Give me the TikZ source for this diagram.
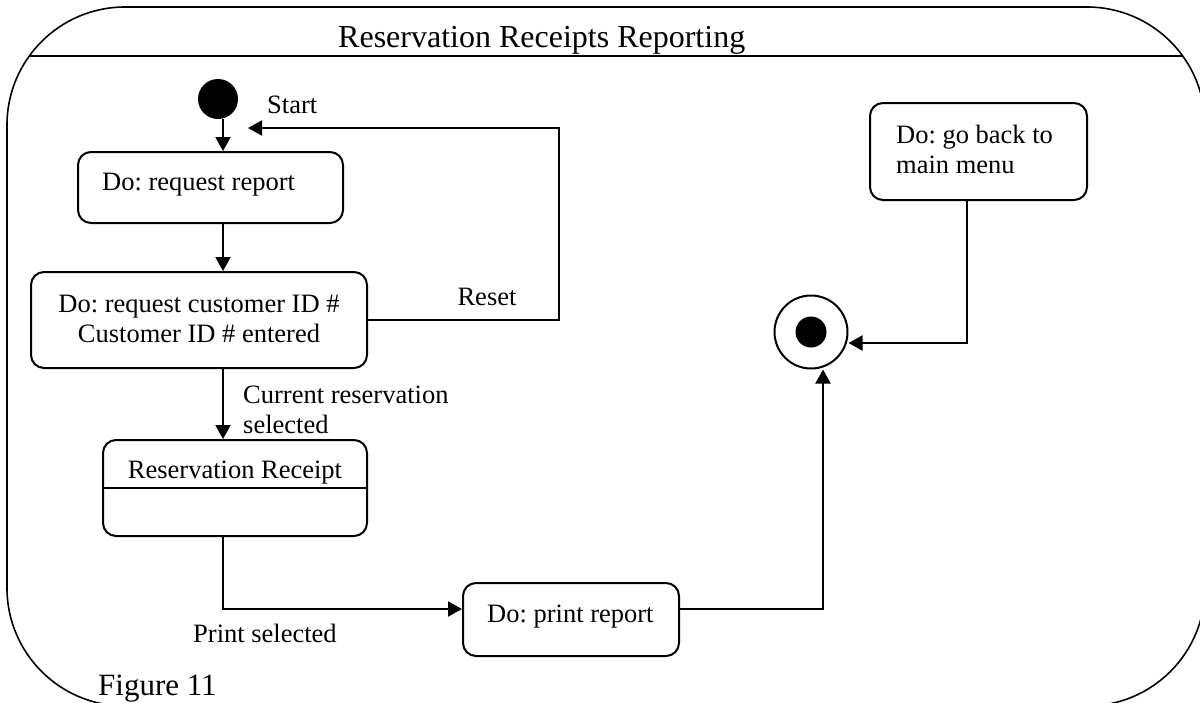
\documentclass[tikz,border=0pt]{standalone}
\usepackage{fontspec}
\setmainfont{Liberation Serif}
\usetikzlibrary{arrows.meta}
\frenchspacing
\begin{document}
\begin{tikzpicture}[x=1pt,y=-1pt,
  frame/.style={line width=1.6pt},
  stbox/.style={draw, line width=2pt, rounded corners=13pt, inner sep=0pt},
  lbl/.style={inner sep=0pt, font=\fontsize{26.5}{30}\selectfont},
  conn/.style={line width=2pt},
  arr/.style={conn, -{Triangle[width=15pt,length=14pt]}},
]
\useasboundingbox (0,0) rectangle (1200,702);

% outer state frame with its title compartment
\draw[frame, rounded corners=118pt] (7,7) rectangle (1205,706);
\draw[frame] (29.3,56) -- (1182.7,56);
\node[inner sep=0pt, anchor=base west, font=\fontsize{32}{36}\selectfont] (title) at (338,47) {Reservation Receipts Reporting};
\node[inner sep=0pt, anchor=base west, font=\fontsize{31}{36}\selectfont] (fig) at (98,695) {Figure 11};

% states
\node[circle, fill, minimum size=40pt, inner sep=0pt] (st) at (218,99) {};
\node[stbox, minimum width=265pt, minimum height=71pt] (b1) at (210.5,187.5) {};
\node[stbox, minimum width=336pt, minimum height=96pt] (b2) at (199,320) {};
\node[stbox, minimum width=264pt, minimum height=96pt] (rr) at (235,488) {};
\node[stbox, minimum width=216pt, minimum height=73pt] (pr) at (571,619.5) {};
\node[stbox, minimum width=217pt, minimum height=97pt] (gb) at (978.5,151.5) {};
\node[circle, draw, line width=2pt, minimum size=73pt, inner sep=0pt] (fin) at (811,332) {};
\node[circle, fill, minimum size=31pt, inner sep=0pt] (finc) at (fin.center) {};
\draw[conn] (rr.west) -- (rr.east);

% state texts
\node[lbl, anchor=base west] (b1t) at (102,190) {Do: request report};
\node[lbl, anchor=base] (b2t1) at (199,312) {Do: request customer ID \#};
\node[lbl, anchor=base] (b2t2) at (199,342) {Customer ID \# entered};
\node[lbl, anchor=base] (rrt) at (235,478) {Reservation Receipt};
\node[lbl, anchor=base west] (prt) at (487,622) {Do: print report};
\node[lbl, anchor=base west] (gbt1) at (896,143) {Do: go back to};
\node[lbl, anchor=base west] (gbt2) at (896,173) {main menu};

% transition labels
\node[lbl, anchor=base west] (lstart) at (267,113) {Start};
\node[lbl, anchor=base] (lreset) at (487,305) {Reset};
\node[lbl, anchor=base west] (lcur1) at (243,403) {Current reservation};
\node[lbl, anchor=base west] (lcur2) at (243,433) {selected};
\node[lbl, anchor=base west] (lprint) at (193,642) {Print selected};

% routing helpers
\coordinate (spine) at (223,0);
\coordinate (rcorner) at (559,128);
\coordinate (resetend) at (248,128);
\coordinate (upx) at (823,0);
\coordinate (gbx) at (967,0);

% transitions
\draw[arr] (st.south -| spine) -- (b1.north -| spine);
\draw[arr] (b1.south -| spine) -- (b2.north -| spine);
\draw[arr] (b2.south -| spine) -- (rr.north -| spine);
\draw[arr] (rr.south -| spine) |- ([yshift=10.5pt]pr.west);
\draw[arr] (b2.east) -| (rcorner) -- (resetend);
\draw[arr] ([yshift=10.5pt]pr.east) -| (fin.south -| upx);
\draw[arr] (gb.south -| gbx) |- ([yshift=-11pt]fin.east);
\end{tikzpicture}
\end{document}
